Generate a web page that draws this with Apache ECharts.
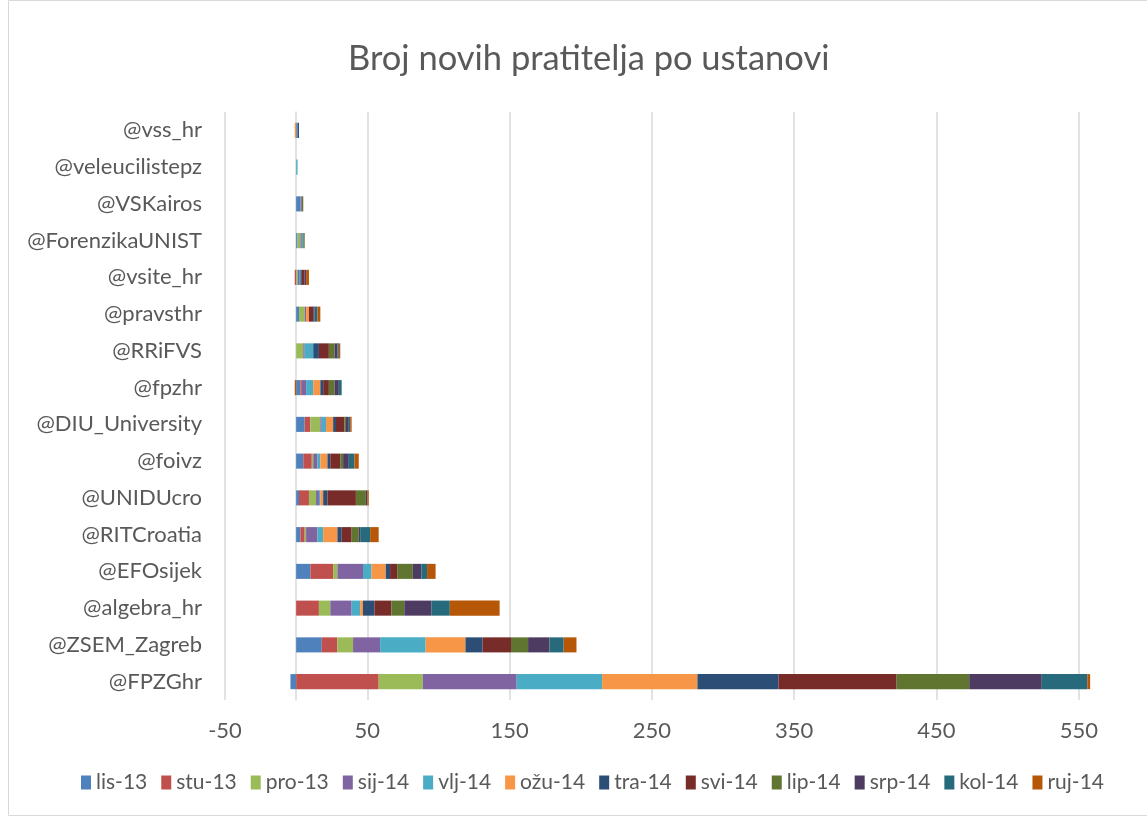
<!DOCTYPE html>
<html>
<head>
<meta charset="utf-8">
<title>Broj novih pratitelja po ustanovi</title>
<script src="https://cdn.jsdelivr.net/npm/echarts@6/dist/echarts.min.js"></script>
<style>
  html, body { margin: 0; padding: 0; background: #fff; }
  #chart { width: 1147px; height: 816px; }
</style>
</head>
<body>
<div id="chart"></div>
<script>
// categories, bottom to top
const ustanove = ['@FPZGhr', '@ZSEM_Zagreb', '@algebra_hr', '@EFOsijek', '@RITCroatia', '@UNIDUcro',
  '@foivz', '@DIU_University', '@fpzhr', '@RRiFVS', '@pravsthr', '@vsite_hr',
  '@ForenzikaUNIST', '@VSKairos', '@veleucilistepz', '@vss_hr'];

const mjeseci = ['lis-13', 'stu-13', 'pro-13', 'sij-14', 'vlj-14', 'ožu-14',
  'tra-14', 'svi-14', 'lip-14', 'srp-14', 'kol-14', 'ruj-14'];

const boje = ['#4F81BD', '#C0504D', '#9BBB59', '#8064A2', '#4BACC6', '#F79646',
  '#2C4D75', '#772C2A', '#5F7530', '#4D3B62', '#276A7C', '#B65708'];

// new followers per month, same order as ustanove
const lis13 = [-4, 18, 0, 10, 3, 2, 5, 6, 3, 0, 2, 0, 1, 3, 0, 1];
const stu13 = [58, 11, 16, 16, 3, 7, 6, 4, 1, 0, 0, -1, 0, 0, 0, 0];
const pro13 = [31, 11, 8, 3, 1, 5, 1, 7, 0, 5, 4, 1, 2, 0, 0, 0];
const sij14 = [66, 19, 15, 18, 8, 2, 3, 1, 3, 1, 1, 1, 1, 1, 0, 0];
const vlj14 = [60, 32, 6, 6, 4, 1, 2, 3, 5, 6, 0, 1, 1, 0, 1, 0];
const ozu14 = [67, 28, 2, 10, 10, 2, 5, 5, 5, 0, 2, 0, 0, 0, 0, -1];
const tra14 = [57, 12, 8, 3, 3, 3, 2, 2, 2, 4, 0, 1, 0, 0, 0, 1];
const svi14 = [83, 20, 12, 5, 7, 20, 7, 6, 4, 7, 3, 2, 0, 0, 0, 0];
const lip14 = [51, 12, 9, 11, 5, 7, 2, 1, 4, 4, 0, 0, 1, 1, 0, 0];
const srp14 = [51, 15, 19, 6, 1, 1, 4, 2, 3, 2, 1, 1, 0, 0, 0, 0];
const kol14 = [32, 10, 13, 4, 7, 0, 4, 1, 2, 1, 2, 0, 0, 0, 0, 0];
const ruj14 = [2, 9, 35, 6, 6, 1, 3, 1, -1, 1, 2, 2, 0, 0, 0, 0];

const vrijednosti = [lis13, stu13, pro13, sij14, vlj14, ozu14, tra14, svi14, lip14, srp14, kol14, ruj14];

const font = 'Lato, "Open Sans", sans-serif';
const sivo = '#595959';

const chart = echarts.init(document.getElementById('chart'));

const option = {
    animation: false,
    color: boje,
    title: {
        text: 'Broj novih pratitelja po ustanovi',
        left: 343,
        top: 36,
        textStyle: { fontFamily: font, fontSize: 34.5, fontWeight: 'normal', color: sivo }
    },
    legend: {
        bottom: 18,
        left: 76,
        data: mjeseci,
        icon: 'rect',
        itemWidth: 10,
        itemHeight: 14,
        itemGap: 14,
        textStyle: { fontFamily: font, fontSize: 21, color: sivo }
    },
    grid: { left: 225, right: 54, top: 112, bottom: 116, containLabel: false, outerBoundsMode: 'none' },
    xAxis: {
        type: 'value',
        min: -50,
        max: 560,
        interval: 100,
        axisLine: { show: false },
        axisTick: { show: false },
        axisLabel: { fontFamily: font, fontSize: 22, color: sivo, margin: 20, showMaxLabel: false },
        splitLine: { showMaxLine: false, lineStyle: { color: '#d9d9d9', width: 1.5 } }
    },
    yAxis: {
        type: 'category',
        data: ustanove,
        axisLine: { onZero: true, lineStyle: { color: '#d9d9d9', width: 1.5 } },
        axisTick: { show: false },
        axisLabel: { fontFamily: font, fontSize: 22, color: sivo, margin: 23 }
    },
    graphic: [{
        type: 'rect',
        shape: { x: 8.5, y: 0.5, width: 1140, height: 815 },
        style: { fill: 'none', stroke: '#d9d9d9', lineWidth: 1 },
        silent: true
    }],
    series: mjeseci.map((m, i) => ({
        name: m,
        type: 'bar',
        stack: 'ukupno',
        barWidth: '41%',
        data: vrijednosti[i]
    }))
};

chart.setOption(option);
</script>
</body>
</html>
